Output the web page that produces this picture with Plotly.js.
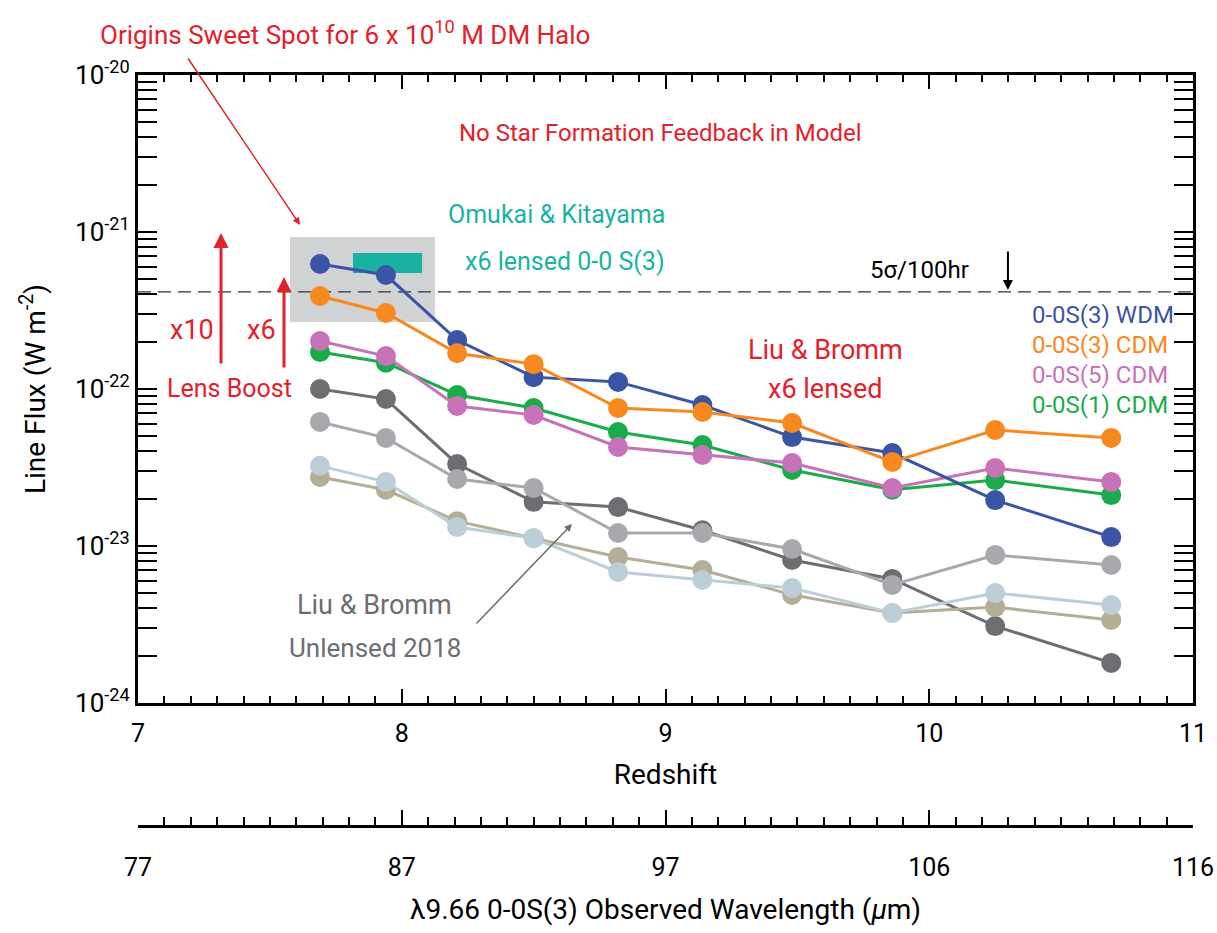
<!DOCTYPE html>
<html>
<head>
<meta charset="utf-8">
<script src="https://cdn.plot.ly/plotly-3.0.1.min.js"></script>
<style>html,body{margin:0;padding:0;background:#fff;}#chart{width:1217px;height:933px;}</style>
</head>
<body>
<div id="chart"></div>
<script>
// ---- data ----
const redshift = [7.69, 7.94, 8.21, 8.50, 8.82, 9.14, 9.48, 9.86, 10.25, 10.69];

const s3WDM   = [6.25e-22, 5.32e-22, 2.05e-22, 1.19e-22, 1.11e-22, 7.91e-23, 4.94e-23, 3.91e-23, 1.96e-23, 1.14e-23];
const s3CDM   = [3.91e-22, 3.05e-22, 1.69e-22, 1.44e-22, 7.57e-23, 7.14e-23, 6.07e-23, 3.43e-23, 5.48e-23, 4.88e-23];
const s5CDM   = [2.02e-22, 1.62e-22, 7.80e-23, 6.83e-23, 4.27e-23, 3.80e-23, 3.38e-23, 2.34e-23, 3.14e-23, 2.56e-23];
const s1CDM   = [1.72e-22, 1.47e-22, 9.16e-23, 7.57e-23, 5.32e-23, 4.40e-23, 3.05e-23, 2.28e-23, 2.63e-23, 2.11e-23];
const unlDark = [1.00e-22, 8.63e-23, 3.33e-23, 1.91e-23, 1.77e-23, 1.26e-23, 8.14e-24, 6.17e-24, 3.09e-24, 1.80e-24];
const unlGray = [6.17e-23, 4.88e-23, 2.67e-23, 2.34e-23, 1.21e-23, 1.21e-23, 9.57e-24, 5.65e-24, 8.77e-24, 7.57e-24];
const unlTan  = [2.75e-23, 2.28e-23, 1.44e-23, 1.12e-23, 8.51e-24, 7.03e-24, 4.88e-24, 3.74e-24, 4.08e-24, 3.38e-24];
const unlBlue = [3.24e-23, 2.56e-23, 1.32e-23, 1.12e-23, 6.83e-24, 6.07e-24, 5.40e-24, 3.74e-24, 5.02e-24, 4.21e-24];

const sensitivity5sig = 4.15e-22;           // 5 sigma / 100 hr
const sweetSpotZ = [7.576, 8.126];          // grey box, redshift extent
const sweetSpotFlux = [2.67e-22, 9.29e-22]; // grey box, flux extent
const omukaiZ = [7.815, 8.077];
const omukaiFlux = [5.48e-22, 7.34e-22];

const xTickVals = [7, 8, 9, 10, 11];
const xTickText = ['7', '8', '9', '10', '11'];
const lambdaTickText = ['77', '87', '97', '106', '116'];
const yTickVals = [1e-24, 1e-23, 1e-22, 1e-21, 1e-20];
const yTickText = ['10<sup>-24</sup>', '10<sup>-23</sup>', '10<sup>-22</sup>', '10<sup>-21</sup>', '10<sup>-20</sup>'];

// ---- styling ----
const FONT = 'Roboto, "Liberation Sans", sans-serif';
const RED = '#e3212b';
const TEAL = '#1ab3a3';
const GREYTXT = '#6d6e71';

function box(xs, ys, color) {
  return {x: [xs[0], xs[1], xs[1], xs[0], xs[0]], y: [ys[0], ys[0], ys[1], ys[1], ys[0]],
    mode: 'lines', fill: 'toself', fillcolor: color, line: {width: 0, color: color},
    hoverinfo: 'skip', showlegend: false};
}
function series(y, color, name) {
  return {x: redshift, y: y, name: name, mode: 'lines+markers',
    line: {color: color, width: 3}, marker: {color: color, size: 20},
    hoverinfo: 'skip', showlegend: false};
}

const traces = [
  box(sweetSpotZ, sweetSpotFlux, '#d1d3d4'),
  {x: [7, 11], y: [sensitivity5sig, sensitivity5sig], mode: 'lines',
    line: {color: '#333', width: 1.2, dash: '13px,7px'}, hoverinfo: 'skip', showlegend: false},
  box(omukaiZ, omukaiFlux, TEAL),
  series(unlDark, '#6d6e71', 'unlensed dark'),
  series(unlGray, '#a7a9ac', 'unlensed grey'),
  series(unlTan, '#b4ae94', 'unlensed tan'),
  series(unlBlue, '#bccfd9', 'unlensed light blue'),
  series(s1CDM, '#1aac4b', '0-0S(1) CDM'),
  series(s5CDM, '#c873b9', '0-0S(5) CDM'),
  series(s3WDM, '#3b55a6', '0-0S(3) WDM'),
  series(s3CDM, '#f7891f', '0-0S(3) CDM'),
  // invisible trace to activate the wavelength axis
  {x: [7, 11], y: [1e-24, 1e-24], xaxis: 'x2', mode: 'markers', marker: {opacity: 0}, hoverinfo: 'skip', showlegend: false}
];

function ann(text, x, y, color, size, extra) {
  return Object.assign({text: text, x: x, y: y, xref: 'paper', yref: 'paper', showarrow: false,
    xanchor: 'center', yanchor: 'middle',
    font: {family: FONT, size: size, color: color}}, extra || {});
}
function arrow(x, y, ax, ay, color, width, head) {
  return {text: '', x: x, y: y, xref: 'paper', yref: 'paper', showarrow: true,
    xanchor: 'center', yanchor: 'middle',
    ax: ax, ay: ay, arrowcolor: color, arrowwidth: width, arrowhead: head || 2, arrowsize: 1};
}

const annotations = [
  ann('Origins Sweet Spot for 6 x 10<sup>10</sup> M DM Halo', 0.196, 1.056, RED, 26),
  arrow(0.1536, 0.8003, -113, -168, RED, 1.5, 2),
  ann('No Star Formation Feedback in Model', 0.4957, 0.9228, RED, 24),
  ann('Omukai &amp; Kitayama', 0.397, 0.8136, TEAL, 25),
  ann('x6 lensed 0-0 S(3)', 0.4047, 0.751, TEAL, 25),
  ann('5σ/100hr', 0.7403, 0.7403, '#000', 24),
  arrow(0.8246, 0.7137, 0, -40, '#000', 2, 2),
  ann('0-0S(3) WDM', 0.8455, 0.6804, '#3b55a6', 24, {xanchor: 'left'}),
  ann('0-0S(3) CDM', 0.8455, 0.6405, '#f7891f', 24, {xanchor: 'left'}),
  ann('0-0S(5) CDM', 0.8455, 0.6005, '#c873b9', 24, {xanchor: 'left'}),
  ann('0-0S(1) CDM', 0.8455, 0.5606, '#1aac4b', 24, {xanchor: 'left'}),
  ann('Liu &amp; Bromm', 0.6512, 0.6338, RED, 27),
  ann('x6 lensed', 0.6512, 0.5819, RED, 27),
  ann('x10', 0.0512, 0.6605, RED, 27),
  ann('x6', 0.1175, 0.6605, RED, 27),
  ann('Lens Boost', 0.0872, 0.5832, RED, 25),
  arrow(0.0787, 0.7896, 0, 132, RED, 3, 2),
  arrow(0.1384, 0.7310, 0, 92, RED, 3, 2),
  ann('Liu &amp; Bromm', 0.2246, 0.2943, GREYTXT, 27),
  ann('Unlensed 2018', 0.2246, 0.237, GREYTXT, 26),
  arrow(0.4114, 0.4021, -97, 101, GREYTXT, 1.5, 2)
];

const layout = {
  width: 1217, height: 933,
  margin: {l: 138, r: 24, t: 75, b: 107},
  paper_bgcolor: '#fff', plot_bgcolor: 'rgba(0,0,0,0)',
  font: {family: FONT, color: '#000'},
  showlegend: false,
  xaxis: {
    range: [7, 11], tickmode: 'array', tickvals: xTickVals, ticktext: xTickText,
    ticks: 'inside', ticklen: 14, tickwidth: 2, tickcolor: '#000',
    showline: true, linewidth: 3, linecolor: '#000', mirror: 'allticks',
    showgrid: false, zeroline: false, anchor: 'y',
    ticklabelstandoff: 6,
    tickfont: {family: FONT, size: 25, color: '#000'},
    minor: {dtick: 0.1, tick0: 7, ticks: 'inside', ticklen: 7, tickwidth: 2, tickcolor: '#000', showgrid: false},
    title: {text: 'Redshift', font: {family: FONT, size: 28, color: '#000'}, standoff: 18}
  },
  xaxis2: {
    range: [7, 11], overlaying: 'x', anchor: 'free', position: 0, side: 'bottom',
    tickmode: 'array', tickvals: xTickVals, ticktext: lambdaTickText,
    ticks: 'inside', ticklen: 15, tickwidth: 2, tickcolor: '#000',
    showline: true, linewidth: 2.5, linecolor: '#000',
    showgrid: false, zeroline: false,
    ticklabelstandoff: 18,
    tickfont: {family: FONT, size: 25, color: '#000'},
    minor: {dtick: 0.1, tick0: 7, ticks: 'inside', ticklen: 8, tickwidth: 2, tickcolor: '#000', showgrid: false},
    title: {text: 'λ9.66 0-0S(3) Observed Wavelength (<i>μ</i>m)', font: {family: FONT, size: 28, color: '#000'}, standoff: 18}
  },
  yaxis: {
    type: 'log', range: [-24, -20], domain: [0.1638, 1],
    tickmode: 'array', tickvals: yTickVals, ticktext: yTickText,
    ticks: 'inside', ticklen: 19, tickwidth: 2, tickcolor: '#000',
    showline: true, linewidth: 3, linecolor: '#000', mirror: 'allticks',
    showgrid: false, zeroline: false,
    tickfont: {family: FONT, size: 26, color: '#000'},
    minor: {dtick: 'D1', ticks: 'inside', ticklen: 10, tickwidth: 2, tickcolor: '#000', showgrid: false},
    title: {text: 'Line Flux (W m<sup>-2</sup>)', font: {family: FONT, size: 28, color: '#000'}, standoff: 22}
  },
  annotations: annotations
};

Plotly.newPlot('chart', traces, layout, {staticPlot: true, displayModeBar: false});
</script>
</body>
</html>
